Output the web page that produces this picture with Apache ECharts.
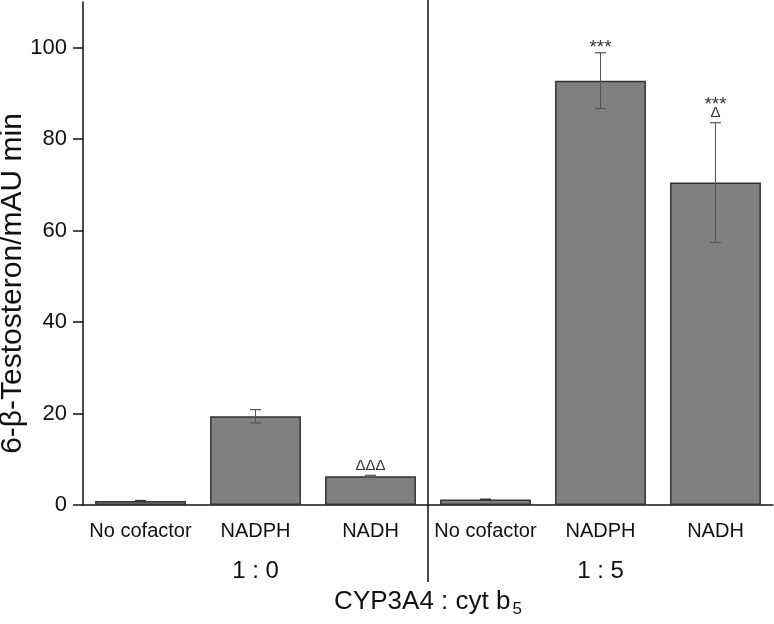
<!DOCTYPE html>
<html>
<head>
<meta charset="UTF-8">
<title>CYP3A4 : cyt b5</title>
<script src="https://cdn.jsdelivr.net/npm/echarts@6/dist/echarts.min.js"></script>
<style>
  html, body { margin: 0; padding: 0; background: #fff; }
  #main { width: 774px; height: 624px; }
</style>
</head>
<body>
<div id="main"></div>
<script>
// values
var categories = ['No cofactor', 'NADPH', 'NADH', 'No cofactor', 'NADPH', 'NADH'];
var groups = ['1 : 0', '1 : 5'];
var values = [0.9, 19.4, 6.3, 1.2, 92.8, 70.5];
var errors = [0, 1.45, 0.2, 0, 6.1, 13.1];
var marks = ['', '', 'ΔΔΔ', '', '***', '***\nΔ'];
var majorTicks = [0, 20, 40, 60, 80, 100];

var font = 'Liberation Sans, Arial, sans-serif';
var chart = echarts.init(document.getElementById('main'));

var errData = [];
for (var i = 0; i < values.length; i++) {
  errData.push([i, values[i] - errors[i], values[i] + errors[i], marks[i]]);
}

var option = {
  animation: false,
  grid: { left: 83, right: 1, top: 2, bottom: 119, containLabel: false, outerBoundsMode: 'none' },
  xAxis: [{
    type: 'category',
    data: categories,
    axisLine: { lineStyle: { color: '#111', width: 1.5 } },
    axisTick: { alignWithLabel: true, length: 11, lineStyle: { color: '#111', width: 1.5 } },
    axisLabel: { color: '#111', fontSize: 20, fontFamily: font, margin: 16, interval: 0 },
    name: '{a|CYP3A4 : cyt b}{s|5}',
    nameLocation: 'middle',
    nameGap: 80,
    nameMoveOverlap: false,
    nameTextStyle: {
      rich: {
        a: { fontSize: 26, fontFamily: font, color: '#111' },
        s: { fontSize: 17, fontFamily: font, color: '#111', padding: [16, 0, 0, 2] }
      }
    }
  }, {
    type: 'category',
    data: categories,
    position: 'bottom',
    axisLine: { show: false },
    axisTick: { length: 6, lineStyle: { color: '#111', width: 1.5 } },
    axisLabel: { show: false }
  }, {
    type: 'category',
    data: groups,
    position: 'bottom',
    offset: 40,
    axisLine: { show: false },
    axisTick: { show: false },
    axisLabel: { color: '#111', fontSize: 24, fontFamily: font, margin: 14, interval: 0 }
  }],
  yAxis: [{
    type: 'value',
    min: 0,
    max: 110,
    interval: 10,
    axisLine: { show: true, lineStyle: { color: '#111', width: 1.5 } },
    axisTick: { length: 5, lineStyle: { color: '#111', width: 1.5 } },
    axisLabel: {
      color: '#111', fontSize: 22, fontFamily: font, margin: 16,
      formatter: function (v) { return majorTicks.indexOf(v) >= 0 ? String(v) : ''; }
    },
    splitLine: { show: false },
    name: '6-β-Testosteron/mAU min',
    nameLocation: 'middle',
    nameGap: 55,
    nameMoveOverlap: false,
    nameTextStyle: { color: '#111', fontSize: 30, fontFamily: font, padding: [0, 60, 0, 0] }
  }, {
    type: 'value',
    min: 0,
    max: 110,
    interval: 20,
    position: 'left',
    axisLine: { show: false },
    axisTick: { show: true, length: 10, customValues: majorTicks, lineStyle: { color: '#111', width: 1.5 } },
    axisLabel: { show: false },
    splitLine: { show: false }
  }],
  series: [{
    type: 'bar',
    data: values,
    barCategoryGap: '21%',
    itemStyle: { color: '#808080', borderColor: '#333', borderWidth: 1.5 }
  }, {
    type: 'custom',
    data: errData,
    z: 5,
    renderItem: function (params, api) {
      var lo = api.coord([api.value(0), api.value(1)]);
      var hi = api.coord([api.value(0), api.value(2)]);
      var cap = 5.5;
      var children = [];
      if (hi[1] < lo[1] - 0.5) {
        children.push(
          { type: 'line', shape: { x1: hi[0], y1: hi[1], x2: lo[0], y2: lo[1] }, style: { stroke: '#555', lineWidth: 1 } },
          { type: 'line', shape: { x1: hi[0] - cap, y1: hi[1], x2: hi[0] + cap, y2: hi[1] }, style: { stroke: '#555', lineWidth: 1.2 } },
          { type: 'line', shape: { x1: lo[0] - cap, y1: lo[1], x2: lo[0] + cap, y2: lo[1] }, style: { stroke: '#555', lineWidth: 1.2 } }
        );
      } else {
        children.push({ type: 'line', shape: { x1: hi[0] - cap, y1: hi[1], x2: hi[0] + cap, y2: hi[1] }, style: { stroke: '#333', lineWidth: 2 } });
      }
      // significance marks, stacked upward from the top of the error bar
      var txt = api.value(3);
      if (txt) {
        var lines = String(txt).split('\n').reverse();
        var cy = hi[1] - 9.5;
        for (var k = 0; k < lines.length; k++) {
          var star = lines[k].indexOf('*') >= 0;
          children.push({
            type: 'text',
            style: {
              text: lines[k], x: hi[0], y: star ? cy + 4.5 : cy,
              align: 'center', verticalAlign: 'middle',
              fontSize: star ? 19 : 15, fontFamily: font, fill: '#333'
            }
          });
          cy -= 13;
        }
      }
      return { type: 'group', children: children };
    }
  }]
};
chart.setOption(option);

// separator between the two ratio groups, running down past the group labels
var sepX = (chart.convertToPixel({ xAxisIndex: 0 }, 2) + chart.convertToPixel({ xAxisIndex: 0 }, 3)) / 2;
chart.setOption({
  graphic: [{
    type: 'line',
    shape: { x1: sepX, y1: 0, x2: sepX, y2: 582 },
    style: { stroke: '#111', lineWidth: 1.5 },
    z: 10
  }]
});
</script>
</body>
</html>
